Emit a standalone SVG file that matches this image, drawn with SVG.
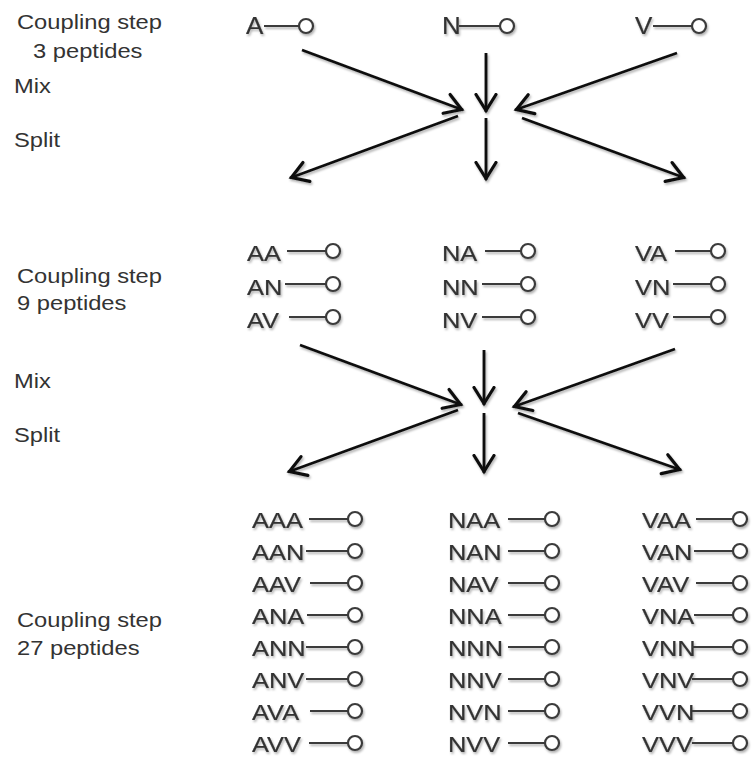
<svg xmlns="http://www.w3.org/2000/svg" width="755" height="766" viewBox="0 0 755 766">
<style>
text{font-family:"Liberation Sans",Arial,sans-serif;fill:#333;transform-box:fill-box;transform-origin:0 0;transform:scaleX(1.13)}
.lab{font-size:21px}
.pep{font-size:22.5px;stroke:#333;stroke-width:0.2}
.top{font-size:23px;stroke:#333;stroke-width:0.2}
.bond{stroke:#3a3a3a;stroke-width:2.2;fill:none}
.res{stroke:#3a3a3a;stroke-width:2.2;fill:#fff}
.node{filter:url(#sh)}
.arr{stroke:#111;stroke-width:2.8;fill:none;marker-end:url(#ah)}
</style>
<defs>
<filter id="sh" x="-20%" y="-40%" width="140%" height="180%">
<feDropShadow dx="1.2" dy="2" stdDeviation="1.3" flood-color="#000" flood-opacity="0.3"/>
</filter>
<marker id="ah" viewBox="-18 -13 22 26" refX="1.5" refY="0" markerWidth="22" markerHeight="26" markerUnits="userSpaceOnUse" orient="auto">
<path d="M-16,-10 L0,0 L-16,10" stroke="#111" stroke-width="3.2" fill="none" stroke-linejoin="miter" stroke-linecap="round"/>
</marker>
</defs>
<rect width="755" height="766" fill="#fff"/>

<g id="labels">
<g id="lab-step1"><text class="lab" x="17" y="29">Coupling step</text><text class="lab" x="33" y="58">3 peptides</text></g>
<g id="lab-mix1"><text class="lab" x="14" y="93">Mix</text></g>
<g id="lab-split1"><text class="lab" x="14" y="147">Split</text></g>
<g id="lab-step2"><text class="lab" x="17" y="283">Coupling step</text><text class="lab" x="17" y="310">9 peptides</text></g>
<g id="lab-mix2"><text class="lab" x="14" y="388">Mix</text></g>
<g id="lab-split2"><text class="lab" x="14" y="442">Split</text></g>
<g id="lab-step3"><text class="lab" x="17" y="627">Coupling step</text><text class="lab" x="17" y="655">27 peptides</text></g>
</g>

<g id="step1" class="node">
<g id="p-A"><text class="top" x="246" y="34">A</text><line class="bond" x1="264" y1="26" x2="299" y2="26"/><circle class="res" cx="306" cy="26" r="7"/></g>
<g id="p-N"><text class="top" x="442" y="34">N</text><line class="bond" x1="459" y1="26" x2="500" y2="26"/><circle class="res" cx="507" cy="26" r="7"/></g>
<g id="p-V"><text class="top" x="635" y="34">V</text><line class="bond" x1="653" y1="26" x2="692" y2="26"/><circle class="res" cx="699" cy="26" r="7"/></g>
</g>

<g id="step2" class="node">
<g id="p-AA"><text class="pep" x="247" y="261">AA</text><line class="bond" x1="287" y1="251" x2="326" y2="251"/><circle class="res" cx="333" cy="251" r="7"/></g>
<g id="p-AN"><text class="pep" x="247" y="295">AN</text><line class="bond" x1="285" y1="284" x2="326" y2="284"/><circle class="res" cx="333" cy="284" r="7"/></g>
<g id="p-AV"><text class="pep" x="247" y="328">AV</text><line class="bond" x1="289" y1="317" x2="326" y2="317"/><circle class="res" cx="333" cy="317" r="7"/></g>
<g id="p-NA"><text class="pep" x="442" y="261">NA</text><line class="bond" x1="485" y1="251" x2="521" y2="251"/><circle class="res" cx="528" cy="251" r="7"/></g>
<g id="p-NN"><text class="pep" x="442" y="295">NN</text><line class="bond" x1="482" y1="284" x2="521" y2="284"/><circle class="res" cx="528" cy="284" r="7"/></g>
<g id="p-NV"><text class="pep" x="442" y="328">NV</text><line class="bond" x1="482" y1="317" x2="521" y2="317"/><circle class="res" cx="528" cy="317" r="7"/></g>
<g id="p-VA"><text class="pep" x="635" y="261">VA</text><line class="bond" x1="675" y1="251" x2="711" y2="251"/><circle class="res" cx="718" cy="251" r="7"/></g>
<g id="p-VN"><text class="pep" x="635" y="295">VN</text><line class="bond" x1="673" y1="284" x2="711" y2="284"/><circle class="res" cx="718" cy="284" r="7"/></g>
<g id="p-VV"><text class="pep" x="635" y="328">VV</text><line class="bond" x1="673" y1="317" x2="711" y2="317"/><circle class="res" cx="718" cy="317" r="7"/></g>
</g>

<g id="step3" class="node">
<g id="p-AAA"><text class="pep" x="252" y="528">AAA</text><line class="bond" x1="309" y1="519" x2="348" y2="519"/><circle class="res" cx="355" cy="519" r="7"/></g>
<g id="p-AAN"><text class="pep" x="252" y="560">AAN</text><line class="bond" x1="306" y1="551" x2="348" y2="551"/><circle class="res" cx="355" cy="551" r="7"/></g>
<g id="p-AAV"><text class="pep" x="252" y="592">AAV</text><line class="bond" x1="310" y1="583" x2="348" y2="583"/><circle class="res" cx="355" cy="583" r="7"/></g>
<g id="p-ANA"><text class="pep" x="252" y="624">ANA</text><line class="bond" x1="307" y1="615" x2="348" y2="615"/><circle class="res" cx="355" cy="615" r="7"/></g>
<g id="p-ANN"><text class="pep" x="252" y="656">ANN</text><line class="bond" x1="306" y1="647" x2="348" y2="647"/><circle class="res" cx="355" cy="647" r="7"/></g>
<g id="p-ANV"><text class="pep" x="252" y="688">ANV</text><line class="bond" x1="306" y1="679" x2="348" y2="679"/><circle class="res" cx="355" cy="679" r="7"/></g>
<g id="p-AVA"><text class="pep" x="252" y="720">AVA</text><line class="bond" x1="310" y1="711" x2="348" y2="711"/><circle class="res" cx="355" cy="711" r="7"/></g>
<g id="p-AVV"><text class="pep" x="252" y="752">AVV</text><line class="bond" x1="309" y1="743" x2="348" y2="743"/><circle class="res" cx="355" cy="743" r="7"/></g>

<g id="p-NAA"><text class="pep" x="448" y="528">NAA</text><line class="bond" x1="508" y1="519" x2="545" y2="519"/><circle class="res" cx="552" cy="519" r="7"/></g>
<g id="p-NAN"><text class="pep" x="448" y="560">NAN</text><line class="bond" x1="508" y1="551" x2="545" y2="551"/><circle class="res" cx="552" cy="551" r="7"/></g>
<g id="p-NAV"><text class="pep" x="448" y="592">NAV</text><line class="bond" x1="508" y1="583" x2="545" y2="583"/><circle class="res" cx="552" cy="583" r="7"/></g>
<g id="p-NNA"><text class="pep" x="448" y="624">NNA</text><line class="bond" x1="508" y1="615" x2="545" y2="615"/><circle class="res" cx="552" cy="615" r="7"/></g>
<g id="p-NNN"><text class="pep" x="448" y="656">NNN</text><line class="bond" x1="508" y1="647" x2="545" y2="647"/><circle class="res" cx="552" cy="647" r="7"/></g>
<g id="p-NNV"><text class="pep" x="448" y="688">NNV</text><line class="bond" x1="508" y1="679" x2="545" y2="679"/><circle class="res" cx="552" cy="679" r="7"/></g>
<g id="p-NVN"><text class="pep" x="448" y="720">NVN</text><line class="bond" x1="508" y1="711" x2="545" y2="711"/><circle class="res" cx="552" cy="711" r="7"/></g>
<g id="p-NVV"><text class="pep" x="448" y="752">NVV</text><line class="bond" x1="508" y1="743" x2="545" y2="743"/><circle class="res" cx="552" cy="743" r="7"/></g>

<g id="p-VAA"><text class="pep" x="642" y="528">VAA</text><line class="bond" x1="696" y1="519" x2="733" y2="519"/><circle class="res" cx="740" cy="519" r="7"/></g>
<g id="p-VAN"><text class="pep" x="642" y="560">VAN</text><line class="bond" x1="694" y1="551" x2="733" y2="551"/><circle class="res" cx="740" cy="551" r="7"/></g>
<g id="p-VAV"><text class="pep" x="642" y="592">VAV</text><line class="bond" x1="696" y1="583" x2="733" y2="583"/><circle class="res" cx="740" cy="583" r="7"/></g>
<g id="p-VNA"><text class="pep" x="642" y="624">VNA</text><line class="bond" x1="694" y1="615" x2="733" y2="615"/><circle class="res" cx="740" cy="615" r="7"/></g>
<g id="p-VNN"><text class="pep" x="642" y="656">VNN</text><line class="bond" x1="692" y1="647" x2="733" y2="647"/><circle class="res" cx="740" cy="647" r="7"/></g>
<g id="p-VNV"><text class="pep" x="642" y="688">VNV</text><line class="bond" x1="692" y1="679" x2="733" y2="679"/><circle class="res" cx="740" cy="679" r="7"/></g>
<g id="p-VVN"><text class="pep" x="642" y="720">VVN</text><line class="bond" x1="692" y1="711" x2="733" y2="711"/><circle class="res" cx="740" cy="711" r="7"/></g>
<g id="p-VVV"><text class="pep" x="642" y="752">VVV</text><line class="bond" x1="692" y1="743" x2="733" y2="743"/><circle class="res" cx="740" cy="743" r="7"/></g>
</g>

<g id="connectors" filter="url(#sh)">
<line class="arr" x1="302" y1="50" x2="463" y2="110"/>
<line class="arr" x1="486" y1="53" x2="486" y2="112"/>
<line class="arr" x1="677" y1="53" x2="515" y2="110"/>
<line class="arr" x1="458" y1="116" x2="290" y2="178"/>
<line class="arr" x1="486" y1="118" x2="486" y2="180"/>
<line class="arr" x1="522" y1="118" x2="685" y2="178"/>
<line class="arr" x1="300" y1="345" x2="462" y2="405"/>
<line class="arr" x1="484" y1="350" x2="484" y2="405"/>
<line class="arr" x1="675" y1="349" x2="513" y2="407"/>
<line class="arr" x1="458" y1="410" x2="288" y2="472"/>
<line class="arr" x1="484" y1="413" x2="484" y2="473"/>
<line class="arr" x1="518" y1="413" x2="681" y2="470"/>
</g>
</svg>
